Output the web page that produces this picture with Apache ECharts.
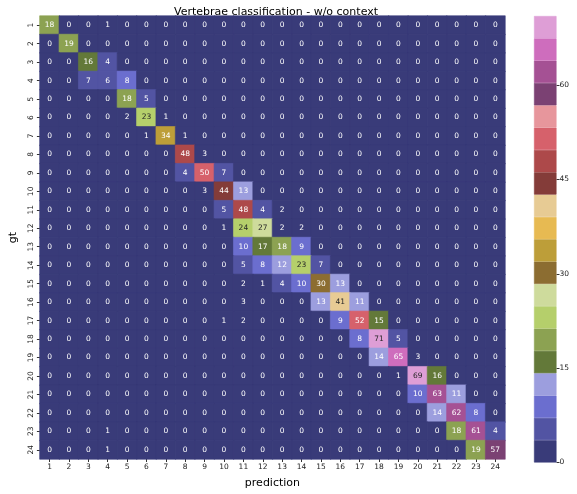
<!DOCTYPE html>
<html><head><meta charset="utf-8">
<script src="https://cdn.jsdelivr.net/npm/echarts@6/dist/echarts.min.js"></script>
<style>html,body{margin:0;padding:0;background:#fff}#c{width:577px;height:494px}</style>
</head><body><div id="c"></div>
<script>
const categories = ['1','2','3','4','5','6','7','8','9','10','11','12','13','14','15','16','17','18','19','20','21','22','23','24'];
const colorbarTicks = [0, 15, 30, 45, 60];
const vmax = 71;
const palette = ['#393b79','#5254a3','#6b6ecf','#9c9ede','#637939','#8ca252','#b5cf6b','#cedb9c','#8c6d31','#bd9e39','#e7ba52','#e7cb94','#843c39','#ad494a','#d6616b','#e7969c','#7b4173','#a55194','#ce6dbd','#de9ed6'];
// rows = gt 1..24, columns = prediction 1..24
const matrix = [
[18,0,0,1,0,0,0,0,0,0,0,0,0,0,0,0,0,0,0,0,0,0,0,0],
[0,19,0,0,0,0,0,0,0,0,0,0,0,0,0,0,0,0,0,0,0,0,0,0],
[0,0,16,4,0,0,0,0,0,0,0,0,0,0,0,0,0,0,0,0,0,0,0,0],
[0,0,7,6,8,0,0,0,0,0,0,0,0,0,0,0,0,0,0,0,0,0,0,0],
[0,0,0,0,18,5,0,0,0,0,0,0,0,0,0,0,0,0,0,0,0,0,0,0],
[0,0,0,0,2,23,1,0,0,0,0,0,0,0,0,0,0,0,0,0,0,0,0,0],
[0,0,0,0,0,1,34,1,0,0,0,0,0,0,0,0,0,0,0,0,0,0,0,0],
[0,0,0,0,0,0,0,48,3,0,0,0,0,0,0,0,0,0,0,0,0,0,0,0],
[0,0,0,0,0,0,0,4,50,7,0,0,0,0,0,0,0,0,0,0,0,0,0,0],
[0,0,0,0,0,0,0,0,3,44,13,0,0,0,0,0,0,0,0,0,0,0,0,0],
[0,0,0,0,0,0,0,0,0,5,48,4,2,0,0,0,0,0,0,0,0,0,0,0],
[0,0,0,0,0,0,0,0,0,1,24,27,2,2,0,0,0,0,0,0,0,0,0,0],
[0,0,0,0,0,0,0,0,0,0,10,17,18,9,0,0,0,0,0,0,0,0,0,0],
[0,0,0,0,0,0,0,0,0,0,5,8,12,23,7,0,0,0,0,0,0,0,0,0],
[0,0,0,0,0,0,0,0,0,0,2,1,4,10,30,13,0,0,0,0,0,0,0,0],
[0,0,0,0,0,0,0,0,0,0,3,0,0,0,13,41,11,0,0,0,0,0,0,0],
[0,0,0,0,0,0,0,0,0,1,2,0,0,0,0,9,52,15,0,0,0,0,0,0],
[0,0,0,0,0,0,0,0,0,0,0,0,0,0,0,0,8,71,5,0,0,0,0,0],
[0,0,0,0,0,0,0,0,0,0,0,0,0,0,0,0,0,14,65,3,0,0,0,0],
[0,0,0,0,0,0,0,0,0,0,0,0,0,0,0,0,0,0,1,69,16,0,0,0],
[0,0,0,0,0,0,0,0,0,0,0,0,0,0,0,0,0,0,0,10,63,11,0,0],
[0,0,0,0,0,0,0,0,0,0,0,0,0,0,0,0,0,0,0,0,14,62,8,0],
[0,0,0,1,0,0,0,0,0,0,0,0,0,0,0,0,0,0,0,0,0,18,61,4],
[0,0,0,1,0,0,0,0,0,0,0,0,0,0,0,0,0,0,0,0,0,0,19,57]
];

const step = vmax / palette.length;
function binOf(v){ return Math.min(palette.length - 1, Math.floor(v / step)); }
function lum(hex){
  const c=[1,3,5].map(i=>parseInt(hex.substr(i,2),16)/255).map(x=>x<=0.03928?x/12.92:Math.pow((x+0.055)/1.055,2.4));
  return 0.2126*c[0]+0.7152*c[1]+0.0722*c[2];
}
const data = [];
matrix.forEach((row, r) => row.forEach((v, c) => {
  const col = palette[binOf(v)];
  data.push({ value: [c, r, v], itemStyle: { color: col, borderColor: col, borderWidth: 0.6 },
    label: { color: lum(col) > 0.408 ? '#262626' : '#ffffff' } });
}));

const barSeries = palette.map((col, i) => ({
  type: 'bar', xAxisIndex: 1, yAxisIndex: 1, stack: 'cb', barWidth: '100%',
  data: [step], itemStyle: { color: col, borderColor: col, borderWidth: 0.6 }, silent: true, animation: false
}));

const chart = echarts.init(document.getElementById('c'));
chart.setOption({
  animation: false,
  textStyle: { fontFamily: 'DejaVu Sans' },
  title: { text: 'Vertebrae classification - w/o context', left: 271, top: 2, textAlign: 'center',
    textStyle: { fontSize: 11, fontWeight: 'normal', color: '#000', fontFamily: 'DejaVu Sans' } },
  grid: [
    { left: 37, top: 16, width: 468, height: 446.5 },
    { left: 534, top: 16, width: 22.5, height: 446.5 }
  ],
  xAxis: [
    { type: 'category', data: categories, gridIndex: 0, name: 'prediction', nameLocation: 'middle', nameGap: 19,
      nameTextStyle: { fontSize: 11, color: '#000' },
      axisLine: { show: false }, axisTick: { show: true, length: 3, lineStyle: { color: '#333' }, alignWithLabel: true },
      axisLabel: { fontSize: 7.5, color: '#222', margin: 4, interval: 0 }, splitLine: { show: false } },
    { type: 'category', data: ['cb'], gridIndex: 1, show: false }
  ],
  yAxis: [
    { type: 'category', data: categories, gridIndex: 0, inverse: true, name: 'gt', nameLocation: 'middle', nameGap: 20,
      nameRotate: 90, nameTextStyle: { fontSize: 11, color: '#000' },
      axisLine: { show: false }, axisTick: { show: true, length: 3, lineStyle: { color: '#333' }, alignWithLabel: true },
      axisLabel: { fontSize: 7.5, color: '#222', rotate: 90, margin: 5, interval: 0 }, splitLine: { show: false } },
    { type: 'value', gridIndex: 1, min: 0, max: vmax, interval: 15, position: 'right',
      axisLine: { show: false }, axisTick: { show: true, length: 3, lineStyle: { color: '#333' } },
      axisLabel: { fontSize: 7.5, color: '#222', margin: 3, showMaxLabel: false,
        formatter: v => colorbarTicks.includes(v) ? String(v) : '' },
      splitLine: { show: false } }
  ],
  series: [
    { type: 'heatmap', xAxisIndex: 0, yAxisIndex: 0, data: data,
      label: { show: true, fontSize: 7.5, fontFamily: 'DejaVu Sans', formatter: p => p.value[2] },
      emphasis: { disabled: true } }
  ].concat(barSeries)
});
</script></body></html>
